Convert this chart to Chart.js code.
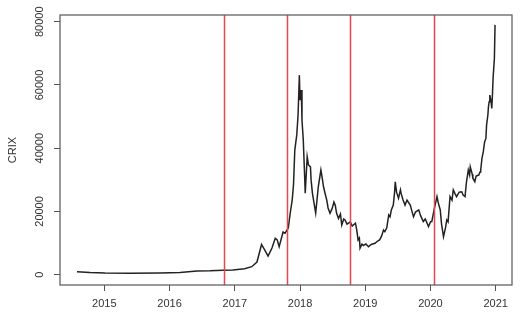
<!DOCTYPE html>
<html>
<head>
<meta charset="utf-8">
<script src="https://cdn.jsdelivr.net/npm/chart.js@4"></script>
<style>
  html, body { margin: 0; padding: 0; background: #fff; }
  #wrap { width: 522px; height: 319px; }
</style>
</head>
<body>
<div id="wrap"><canvas id="c"></canvas></div>
<script>
// decimal year, CRIX value
const dates = [
  2014.58, 2014.78, 2015.01, 2015.39, 2015.85, 2016.16, 2016.42, 2016.62, 2016.82, 2016.97,
  2017.15, 2017.26, 2017.34, 2017.41, 2017.46, 2017.51, 2017.57, 2017.62, 2017.65, 2017.68,
  2017.74, 2017.77, 2017.82, 2017.85, 2017.88, 2017.90, 2017.92, 2017.95, 2017.97, 2017.99,
  2018.00, 2018.02, 2018.03, 2018.05, 2018.07, 2018.08, 2018.11, 2018.13, 2018.16, 2018.17,
  2018.19, 2018.22, 2018.24, 2018.26, 2018.28, 2018.32, 2018.34, 2018.36, 2018.39, 2018.41,
  2018.43, 2018.46, 2018.49, 2018.52, 2018.54, 2018.56, 2018.59, 2018.62, 2018.64, 2018.67,
  2018.69, 2018.72, 2018.77, 2018.80, 2018.85, 2018.87, 2018.89, 2018.91, 2018.92, 2018.95,
  2018.97, 2019.01, 2019.05, 2019.09, 2019.15, 2019.19, 2019.22, 2019.25, 2019.28, 2019.30,
  2019.33, 2019.36, 2019.38, 2019.40, 2019.43, 2019.45, 2019.46, 2019.48, 2019.51, 2019.54,
  2019.55, 2019.58, 2019.61, 2019.64, 2019.69, 2019.71, 2019.74, 2019.77, 2019.82, 2019.85,
  2019.89, 2019.92, 2019.97, 2020.00, 2020.02, 2020.06, 2020.10, 2020.12, 2020.15, 2020.17,
  2020.20, 2020.23, 2020.25, 2020.27, 2020.30, 2020.33, 2020.35, 2020.38, 2020.40, 2020.44,
  2020.48, 2020.50, 2020.53, 2020.55, 2020.58, 2020.60, 2020.61, 2020.64, 2020.65, 2020.68,
  2020.70, 2020.74, 2020.76, 2020.77, 2020.79, 2020.81, 2020.83, 2020.85, 2020.86, 2020.88,
  2020.89, 2020.90, 2020.91, 2020.93, 2020.94, 2020.95, 2020.96, 2020.98, 2020.99
];
const crix = [
  950, 700, 540, 470, 540, 700, 1170, 1230, 1390, 1490,
  1900, 2530, 4020, 9550, 7800, 5900, 8440, 11500, 11000, 8850,
  13500, 13100, 14800, 19500, 23600, 28400, 39400, 44200, 50500, 63100,
  55200, 58400, 48900, 42600, 31500, 25800, 37300, 34700, 34100, 29900,
  25800, 22000, 19500, 23600, 27800, 33100, 30600, 27800, 25200, 23600,
  21100, 19400, 20800, 23000, 22000, 19500, 17800, 19200, 15700, 17600,
  17300, 16000, 16700, 15400, 16300, 14100, 11000, 11600, 8350, 9700,
  9250, 9700, 8850, 9550, 9930, 10650, 11000, 12200, 14100, 13600,
  14800, 18900, 18300, 20500, 22000, 26100, 29400, 26100, 24200, 26800,
  25700, 23600, 22000, 23600, 22000, 20500, 18300, 19800, 20500, 18600,
  16800, 17600, 15200, 16700, 16800, 21000, 24700, 22700, 20500, 16000,
  12000, 14800, 17300, 16700, 24700, 23600, 26800, 25500, 24700, 26100,
  26200, 25200, 24700, 29000, 33100, 31500, 34100, 31800, 30500, 29400,
  31200, 31500, 32500, 33100, 36900, 38900, 42000, 43100, 47300, 50500,
  53300, 54700, 56800, 54600, 52600, 56800, 62100, 68400, 79000
];
const breakDates = [2016.84, 2017.80, 2018.76, 2020.05];
const xTicks = [2015, 2016, 2017, 2018, 2019, 2020, 2021];
const yTicks = [0, 20000, 40000, 60000, 80000];

const FONT = '"Liberation Sans", Arial, sans-serif';
const AXIS = '#555';

const rStyle = {
  id: 'rStyle',
  afterDatasetsDraw(chart) {
    const { ctx, chartArea: a, scales: { x } } = chart;
    ctx.save();
    ctx.strokeStyle = '#e8464e';
    ctx.lineWidth = 1.5;
    breakDates.forEach(d => {
      const px = Math.round(x.getPixelForValue(d)) + 0.5;
      ctx.beginPath();
      ctx.moveTo(px, a.top);
      ctx.lineTo(px, a.bottom);
      ctx.stroke();
    });
    ctx.restore();
  },
  afterDraw(chart) {
    const { ctx, chartArea: a, scales: { y } } = chart;
    ctx.save();
    ctx.strokeStyle = AXIS;
    ctx.lineWidth = 1.2;
    ctx.strokeRect(a.left, a.top, a.right - a.left, a.bottom - a.top);
    // y tick labels, rotated like R's default
    ctx.fillStyle = '#333';
    ctx.font = '11px ' + FONT;
    ctx.textAlign = 'center';
    ctx.textBaseline = 'middle';
    yTicks.forEach(v => {
      const py = y.getPixelForValue(v);
      ctx.save();
      ctx.translate(40, py);
      ctx.rotate(-Math.PI / 2);
      ctx.fillText(String(v), 0, 0);
      ctx.restore();
    });
    ctx.save();
    ctx.translate(13, (a.top + a.bottom) / 2);
    ctx.rotate(-Math.PI / 2);
    ctx.fillText('CRIX', 0, 0);
    ctx.restore();
    ctx.restore();
  }
};

new Chart(document.getElementById('c'), {
  type: 'line',
  data: {
    datasets: [{
      data: dates.map((d, i) => ({ x: d, y: crix[i] })),
      borderColor: '#222',
      borderWidth: 1.5,
      pointRadius: 0,
      tension: 0,
      fill: false
    }]
  },
  options: {
    responsive: true,
    maintainAspectRatio: false,
    animation: false,
    layout: { padding: { top: 15, right: 10, left: 0, bottom: 0 } },
    plugins: { legend: { display: false }, tooltip: { enabled: false } },
    scales: {
      x: {
        type: 'linear',
        min: 2014.32,
        max: 2021.25,
        afterBuildTicks: s => { s.ticks = xTicks.map(v => ({ value: v })); },
        afterFit: s => { s.height = 34; },
        grid: { drawOnChartArea: false, drawTicks: true, tickLength: 6, color: AXIS, lineWidth: 1 },
        border: { display: false },
        ticks: { color: '#333', font: { family: FONT, size: 11 }, padding: 6, maxRotation: 0, autoSkip: false, callback: v => String(v) }
      },
      y: {
        min: -3260,
        max: 82120,
        afterBuildTicks: s => { s.ticks = yTicks.map(v => ({ value: v })); },
        afterFit: s => { s.width = 60; },
        grid: { drawOnChartArea: false, drawTicks: true, tickLength: 6, color: AXIS, lineWidth: 1 },
        border: { display: false },
        ticks: { display: false }
      }
    }
  },
  plugins: [rStyle]
});
</script>
</body>
</html>
